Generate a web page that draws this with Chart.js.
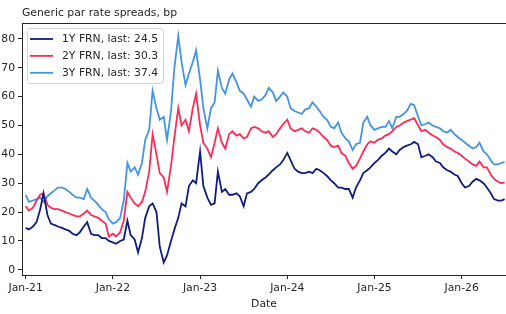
<!DOCTYPE html>
<html>
<head>
<meta charset="utf-8">
<script src="https://cdn.jsdelivr.net/npm/chart.js@4.4.1/dist/chart.umd.min.js"></script>
<style>
    html, body { margin: 0; padding: 0; background: #fff; overflow: hidden; }
    #chart { display: block; }
</style>
</head>
<body>
<canvas id="chart" width="506" height="314"></canvas>
<script>
const seriesLabels = ["1Y FRN, last: 24.5", "2Y FRN, last: 30.3", "3Y FRN, last: 37.4"];
const tickYears = [2021, 2022, 2023, 2024, 2025, 2026];
const tickLabels = ["Jan-21", "Jan-22", "Jan-23", "Jan-24", "Jan-25", "Jan-26"];
const yTicks = [0, 10, 20, 30, 40, 50, 60, 70, 80];

const frn1y = [
    14.5, 14, 15, 16.5, 21, 26.5, 19, 16, 15.5, 15,
    14.5, 14, 13.5, 12.5, 12, 13, 15, 16.5, 12.5, 12,
    12, 11, 11, 10, 9.5, 9, 10, 10.5, 17, 12,
    10.5, 6, 11, 18, 22, 23, 20, 8, 2.5, 5,
    10, 14, 18, 23, 22, 29, 31, 30, 41, 29,
    25, 22.5, 23, 34, 27, 28, 26, 26, 26.5, 25.5,
    22, 26.5, 27, 28, 30, 31, 32, 33, 34.5, 35.5,
    36.5, 38, 40.5, 38, 35, 34, 33.5, 33.5, 34, 33.5,
    35, 34.5, 33.5, 32.5, 31, 30, 28.5, 28.5, 28, 28,
    25, 28.5, 31, 33.5, 34.5, 35.5, 37, 38, 39.5, 40.5,
    42, 41, 40, 41.5, 42.5, 43, 43.5, 44.3, 43.5, 39,
    39.5, 40, 39, 37.5, 37, 35.5, 34.5, 34, 33, 32.5,
    30, 28.5, 29, 30.5, 31.5, 31, 30, 28.5, 26.5, 24.5,
    24, 24, 24.5
];

const frn2y = [
    22, 20.5, 21.5, 24, 26, 26.5, 22.5, 21.5, 21, 21,
    20.5, 20, 19.5, 19, 18.5, 18.5, 19.5, 20.5, 19, 18.5,
    18, 17, 16, 11.5, 12.5, 11.5, 13, 17, 27, 25,
    23, 22, 23.5, 27, 34, 47, 40, 33.5, 32, 27,
    36, 46, 56, 50, 52, 48, 56, 61, 50, 44,
    42, 39, 44, 49, 44, 42, 47, 48, 46.5, 47,
    45.5, 46, 49, 49.5, 49, 48, 47.5, 48, 46, 47,
    49, 50.5, 52, 49, 48, 48.5, 49, 48, 47.5, 49,
    48.5, 47.5, 46, 45, 43, 42.5, 43, 40.5, 39.5, 37,
    35, 36, 38.5, 41, 43.5, 44.5, 44, 45, 45.5, 46.5,
    47, 48, 49.5, 50, 51, 51.5, 52, 52.5, 50, 48,
    48.5, 47.5, 46.5, 46, 45, 43.5, 42.5, 42, 41, 40.5,
    39.5, 38.5, 37.5, 36.5, 36, 37.5, 35.5, 35.5, 33, 31.5,
    30.5, 30, 30.3
];

const frn3y = [
    26, 23.5, 24, 24.5, 25, 23.5, 25.5, 26.5, 27.5, 28.5,
    28.5, 28, 27, 26, 25, 25, 24.5, 28, 25, 24,
    22.5, 21, 20, 17.5, 16, 16.5, 18, 24, 37, 34,
    35.5, 33, 37, 45, 48.5, 62, 56, 52, 53, 45,
    55, 70, 81, 72, 64, 68, 72, 76, 66, 56,
    49, 56, 58, 69, 63, 61, 66, 68, 65, 62,
    61, 59, 56.5, 60, 58.5, 59, 60.5, 63, 61.5, 58.5,
    60, 61.5, 60, 56, 55, 54.5, 54, 55.5, 56, 58,
    56.5, 55, 53, 52, 49.5, 49, 51, 47.5, 45.5, 44.5,
    41.5, 43.5, 44, 51, 53, 50, 48.5, 49, 49.5, 49.5,
    51.5, 49, 53, 53, 54, 55, 57.5, 57, 53, 50,
    50.5, 51, 50, 49.5, 49, 48, 47.5, 48.5, 47, 46,
    45, 44, 43, 42, 42.5, 44, 41, 40, 38, 36.5,
    36.5, 37, 37.4
];

const colors = ["#0f1d80", "#fb2c55", "#4494e2"];

// dates: 1st and 15th of each month, then the last observation
const dates = [];
for (let year = 2021; year <= 2026; year++) {
    const lastMonth = year === 2026 ? 6 : 12;
    for (let month = 1; month <= lastMonth; month++) {
        dates.push({ year: year, month: month, day: 1 });
        if (!(year === 2026 && month === 6)) {
            dates.push({ year: year, month: month, day: 15 });
        }
    }
}
dates.push({ year: 2026, month: 6, day: 15 });
dates.push({ year: 2026, month: 6, day: 28 });

function toDecimalYear(d) {
    const daysInMonth = new Date(d.year, d.month, 0).getDate();
    return d.year + (d.month - 1 + (d.day - 1) / daysInMonth) / 12;
}

const xValues = dates.map(toDecimalYear);

function toPoints(values) {
    return values.map((v, i) => ({ x: xValues[i], y: v }));
}

const fontFamily = "'DejaVu Sans', sans-serif";
const fontSize = 10.8;
const inkColor = "#262626";

// Draws the top spine, the title, and the legend box inside the plot
const decorations = {
    id: 'decorations',
    afterDraw(chart) {
        const ctx = chart.ctx;
        const area = chart.chartArea;

        ctx.save();
        ctx.strokeStyle = inkColor;
        ctx.lineWidth = 1;
        ctx.beginPath();
        ctx.moveTo(area.left, area.top + 0.5);
        ctx.lineTo(area.right, area.top + 0.5);
        ctx.stroke();

        ctx.font = `${fontSize}px ${fontFamily}`;
        ctx.fillStyle = inkColor;
        ctx.textBaseline = 'middle';
        ctx.textAlign = 'left';
        ctx.fillText("Generic par rate spreads, bp", area.left, 13);

        // legend
        const boxX = area.left + 5, boxY = area.top + 5;
        const boxW = 136, boxH = 55;
        ctx.fillStyle = "rgba(255,255,255,0.8)";
        ctx.strokeStyle = "#d4d4d4";
        ctx.beginPath();
        ctx.roundRect(boxX + 0.5, boxY + 0.5, boxW, boxH, 3);
        ctx.fill();
        ctx.stroke();

        chart.data.datasets.forEach((ds, i) => {
            const y = boxY + 11 + i * 16.9;
            ctx.strokeStyle = ds.borderColor;
            ctx.lineWidth = 1.8;
            ctx.beginPath();
            ctx.moveTo(boxX + 3, y);
            ctx.lineTo(boxX + 26, y);
            ctx.stroke();
            ctx.fillStyle = inkColor;
            ctx.fillText(ds.label, boxX + 35, y);
        });
        ctx.restore();
    }
};

new Chart(document.getElementById('chart'), {
    type: 'line',
    data: {
        datasets: [frn1y, frn2y, frn3y].map((values, i) => ({
            label: seriesLabels[i],
            data: toPoints(values),
            borderColor: colors[i],
            backgroundColor: colors[i],
            borderWidth: 1.8,
            pointRadius: 0,
            tension: 0,
            fill: false
        }))
    },
    options: {
        responsive: false,
        animation: false,
        devicePixelRatio: 1,
        layout: { padding: { top: 23, left: 0, right: 0, bottom: 0 } },
        plugins: {
            legend: { display: false },
            title: { display: false },
            tooltip: { enabled: false }
        },
        scales: {
            x: {
                type: 'linear',
                min: 2020.958,
                max: 2026.508,
                afterBuildTicks: scale => {
                    scale.ticks = tickYears.map(v => ({ value: v }));
                },
                afterFit: scale => { scale.height = 39; },
                grid: { display: true, drawOnChartArea: false, color: inkColor, tickLength: 4 },
                border: { display: true, color: inkColor, width: 1 },
                ticks: {
                    autoSkip: false,
                    maxRotation: 0,
                    padding: 3,
                    color: inkColor,
                    font: { family: fontFamily, size: fontSize },
                    callback: value => tickLabels[tickYears.indexOf(value)]
                },
                title: {
                    display: true,
                    text: 'Date',
                    color: inkColor,
                    font: { family: fontFamily, size: fontSize },
                    padding: { top: 0, bottom: 3 }
                }
            },
            y: {
                min: -1.8,
                max: 85.5,
                afterBuildTicks: scale => {
                    scale.ticks = yTicks.map(v => ({ value: v }));
                },
                afterFit: scale => { scale.width = 22; },
                grid: { display: true, drawOnChartArea: false, color: inkColor, tickLength: 4 },
                border: { display: true, color: inkColor, width: 1 },
                ticks: {
                    padding: 3,
                    color: inkColor,
                    font: { family: fontFamily, size: fontSize }
                }
            }
        }
    },
    plugins: [decorations]
});
</script>
</body>
</html>
